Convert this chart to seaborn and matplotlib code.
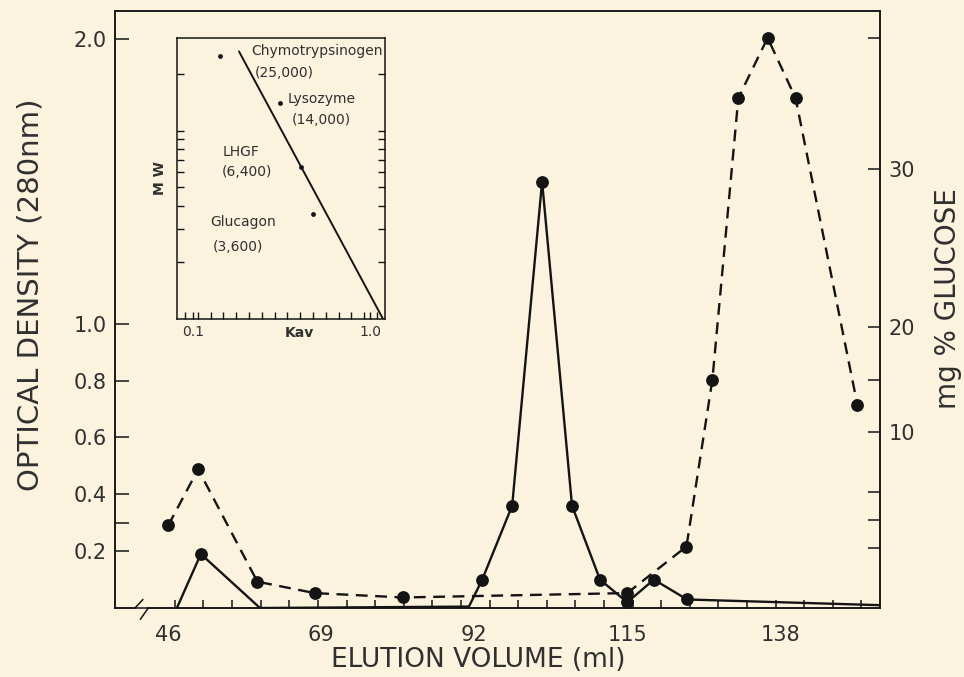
import numpy as np
import seaborn as sns
import matplotlib.pyplot as plt

# -----------------------------
# Values
# -----------------------------

# Optical density at 280 nm (solid line)
od_volume = [47.3, 50.9, 59.8, 91.2, 93.2, 97.7, 102.2, 106.7, 110.9, 115.0, 119.0, 124.0, 153.0]
od_value = [0.0, 0.19, 0.0, 0.005, 0.10, 0.36, 1.50, 0.36, 0.10, 0.02, 0.10, 0.03, 0.01]
od_dot = [False, True, False, False, True, True, True, True, True, True, True, True, False]

# mg % glucose (dashed line)
glu_volume = [46.0, 50.5, 59.4, 68.0, 81.3, 115.0, 123.9, 127.8, 131.7, 136.1, 140.3, 149.6]
glu_value = [4.7, 7.9, 1.5, 0.85, 0.6, 0.85, 3.5, 15.0, 34.5, 38.3, 34.5, 12.6]

# axis ticks
x_ticks = [46, 69, 92, 115, 138]
od_ticks = [0.2, 0.4, 0.6, 0.8, 1.0, 2.0]
od_tick_labels = ["0.2", "0.4", "0.6", "0.8", "1.0", "2.0"]
od_minor = [0.3]
glu_ticks = [10, 20, 30]
glu_minor = [3.4, 5.0, 6.6, 15.0, 38.3]

# the glucose axis is not evenly spaced: glucose value -> height on the OD axis
glu_anchor = [0, 10, 20, 30, 40]
od_anchor = [0, 0.618, 0.989, 1.544, 2.1]

# inset: calibration standards
std_names = ["Chymotrypsinogen", "Lysozyme", "LHGF", "Glucagon"]
std_mw_text = ["(25,000)", "(14,000)", "(6,400)", "(3,600)"]
std_mw = [25000, 14000, 6400, 3600]
std_kav = [0.237, 0.542, 0.649, 0.71]
fit_kav = [0.334, 1.066]
fit_mw = [26300, 1000]

# label positions inside the inset (Kav, MW)
name_pos = [(0.395, 26300), (0.583, 14630), (0.253, 7730), (0.186, 3280)]
mw_pos = [(0.415, 20300), (0.603, 11440), (0.247, 6050), (0.202, 2420)]

# -----------------------------
# Style
# -----------------------------
bg = "#fcf3df"
ink = "#141414"
txt = "#303030"

sns.set_style("ticks")
plt.rcParams["font.family"] = ["DejaVu Sans"]
plt.rcParams["axes.edgecolor"] = ink
plt.rcParams["axes.linewidth"] = 1.1
plt.rcParams["text.color"] = txt
plt.rcParams["axes.labelcolor"] = txt
plt.rcParams["xtick.color"] = ink
plt.rcParams["ytick.color"] = ink
plt.rcParams["xtick.labelcolor"] = txt
plt.rcParams["ytick.labelcolor"] = txt

fig = plt.figure(figsize=(9.64, 6.77), dpi=100, facecolor=bg)
ax = fig.add_axes([0.1193, 0.1019, 0.7936, 0.8818])
ax.set_facecolor(bg)
ax2 = ax.twinx()

# -----------------------------
# Main curves
# -----------------------------
sns.lineplot(x=od_volume, y=od_value, ax=ax, color=ink, lw=1.7, sort=False)
sns.scatterplot(x=[v for v, d in zip(od_volume, od_dot) if d],
                y=[o for o, d in zip(od_value, od_dot) if d],
                ax=ax, color=ink, s=85, linewidth=0, zorder=4)

sns.lineplot(x=glu_volume, y=glu_value, ax=ax2, color=ink, lw=1.7, sort=False,
             linestyle=(0, (5, 3.2)))
sns.scatterplot(x=glu_volume, y=glu_value, ax=ax2, color=ink, s=85, linewidth=0, zorder=4)

# left axis
ax.set_xlim(38, 153)
ax.set_ylim(0, 2.1)
ax.set_yticks(od_ticks, labels=od_tick_labels)
ax.set_yticks(od_minor, minor=True)
ax.tick_params(axis="y", which="both", direction="in", length=10, width=1.1,
               labelsize=15, pad=6, right=False)
ax.set_xticks(x_ticks, labels=[str(t) for t in x_ticks])
ax.set_xticks(np.arange(47.0, 152.0, 4.3), minor=True)
ax.tick_params(axis="x", which="major", length=0, pad=12, labelsize=15)
ax.tick_params(axis="x", which="minor", direction="in", length=6, width=1.1)

# right axis, glucose
gx = [-1000] + glu_anchor + [1000]
s_lo = (od_anchor[1] - od_anchor[0]) / (glu_anchor[1] - glu_anchor[0])
s_hi = (od_anchor[-1] - od_anchor[-2]) / (glu_anchor[-1] - glu_anchor[-2])
px = [od_anchor[0] - 1000 * s_lo] + od_anchor + [od_anchor[-1] + (1000 - glu_anchor[-1]) * s_hi]


def glu_to_od(g):
    return np.interp(g, gx, px)


def od_to_glu(p):
    return np.interp(p, px, gx)


ax2.set_yscale("function", functions=(glu_to_od, od_to_glu))
ax2.set_ylim(0, 40)
ax2.set_yticks(glu_ticks, labels=[str(t) for t in glu_ticks])
ax2.set_yticks(glu_minor, minor=True)
ax2.yaxis.set_minor_formatter(plt.NullFormatter())
ax2.tick_params(axis="y", which="both", direction="in", length=9, width=1.1,
                labelsize=15, pad=6)

# broken x axis near the origin
ax.spines["bottom"].set_bounds(42.9, 153)
ax.plot([38, 41.0], [0, 0], color=ink, lw=1.1, clip_on=False)
ax.plot([41.0, 42.2], [0, 0.03], color=ink, lw=1.1, clip_on=False)
ax.plot([41.8, 43.0], [-0.04, 0], color=ink, lw=1.1, clip_on=False)

# labels
ax.set_xlabel("ELUTION VOLUME (ml)", fontsize=19)
ax.xaxis.set_label_coords(0.475, -0.066)
ax.set_ylabel("OPTICAL DENSITY (280nm)", fontsize=21)
ax.yaxis.set_label_coords(-0.092, 0.525)
ax2.set_ylabel("mg % GLUCOSE", fontsize=20, rotation=90)
ax2.yaxis.set_label_coords(1.07, 0.519)

# -----------------------------
# Inset: MW vs Kav
# -----------------------------
axin = fig.add_axes([0.1836, 0.5288, 0.2158, 0.4151])
axin.set_facecolor(bg)
sns.lineplot(x=fit_kav, y=fit_mw, ax=axin, color=ink, lw=1.4)
sns.scatterplot(x=std_kav, y=std_mw, ax=axin, color=ink, s=12, linewidth=0, zorder=4)
axin.set_yscale("log")
axin.set_xlim(0.019, 1.076)
axin.set_ylim(1000, 31000)
axin.yaxis.set_major_locator(plt.FixedLocator([10000]))
axin.yaxis.set_minor_locator(plt.FixedLocator([2000, 3000, 4000, 5000, 6000, 7000, 8000, 9000, 20000]))
axin.yaxis.set_major_formatter(plt.NullFormatter())
axin.yaxis.set_minor_formatter(plt.NullFormatter())
axin.tick_params(axis="y", which="both", direction="in", left=True, right=True,
                 length=5, width=1.0)
axin.set_xticks([0.1, 1.0], labels=["0.1", "1.0"])
axin.set_xticks(np.arange(0.06, 1.07, 0.065), minor=True)
axin.tick_params(axis="x", which="both", direction="in", length=5, width=1.0,
                 labelsize=10, pad=4)
for sp in axin.spines.values():
    sp.set_linewidth(1.1)

for name, pos in zip(std_names, name_pos):
    axin.text(pos[0], pos[1], name, fontsize=10, ha="left", va="center", clip_on=False)
for mw, pos in zip(std_mw_text, mw_pos):
    axin.text(pos[0], pos[1], mw, fontsize=10, ha="left", va="center")

axin.set_xlabel("Kav", fontsize=10, fontweight="bold")
axin.xaxis.set_label_coords(0.59, -0.025)
axin.set_ylabel("M W", fontsize=10, fontweight="bold", labelpad=4)

fig.savefig("out.png", dpi=100, facecolor=bg)
